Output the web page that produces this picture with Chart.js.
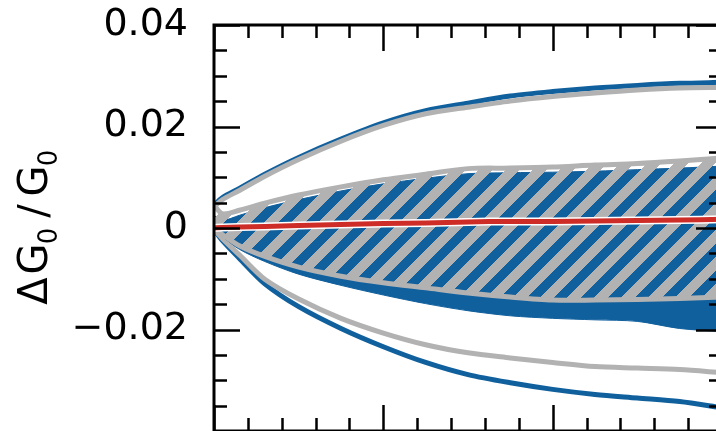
<!DOCTYPE html>
<html lang="en">
<head>
    <meta charset="UTF-8">
    <title>Delta G0 / G0</title>
    <script src="https://cdn.jsdelivr.net/npm/chart.js"></script>
    <style>
        body { margin: 0; overflow: hidden; background: #fff; }
        #wrap { position: absolute; left: 0; top: 0; }
    </style>
</head>
<body>
    <div id="wrap"><canvas id="gChart" width="740" height="460"></canvas></div>

    <script>
        // x positions (axis runs 0..3, tick labels fall below the visible window)
        const xs = [0, 0.05, 0.15, 0.3, 0.5, 0.75, 1.0, 1.25, 1.5, 1.75, 2.0, 2.25, 2.5, 2.75, 3.0];

        // outer envelopes
        const blueOuterUp = [0.0045, 0.0060, 0.0078, 0.0106, 0.0139, 0.0175, 0.0207, 0.0231, 0.0246, 0.0260, 0.0269, 0.0276, 0.0281, 0.0285, 0.0287];
        const grayOuterUp = [0.0042, 0.0056, 0.0074, 0.0102, 0.0135, 0.0171, 0.0202, 0.0225, 0.0238, 0.0250, 0.0259, 0.0266, 0.0272, 0.0276, 0.0277];
        const grayOuterLo = [-0.0003, -0.0021, -0.0053, -0.0101, -0.0140, -0.0178, -0.0207, -0.0230, -0.0246, -0.0256, -0.0265, -0.0273, -0.0276, -0.0279, -0.0285];
        const blueOuterLo = [-0.0003, -0.0025, -0.0060, -0.0110, -0.0155, -0.0198, -0.0234, -0.0265, -0.0289, -0.0305, -0.0318, -0.0328, -0.0335, -0.0342, -0.0354];

        // inner bands
        const blueBandUp = [0.0025, 0.0015, 0.0025, 0.0040, 0.0056, 0.0073, 0.0087, 0.0098, 0.0107, 0.0109, 0.0110, 0.0112, 0.0115, 0.0118, 0.0122];
        const blueBandLo = [-0.0003, -0.0017, -0.0042, -0.0066, -0.0091, -0.0113, -0.0132, -0.0149, -0.0163, -0.0173, -0.0178, -0.0181, -0.0184, -0.0198, -0.0204];
        const grayBandUp = [0.0045, 0.0028, 0.0035, 0.0049, 0.0065, 0.0081, 0.0095, 0.0106, 0.0117, 0.0118, 0.0120, 0.0124, 0.0127, 0.0132, 0.0138];
        const grayBandLo = [-0.0002, -0.0013, -0.0035, -0.0056, -0.0077, -0.0095, -0.0108, -0.0118, -0.0128, -0.0136, -0.0142, -0.0142, -0.0141, -0.0139, -0.0136];

        // central red line
        const redLine = [0, 0.0001, 0.0002, 0.0003, 0.0005, 0.0007, 0.0009, 0.0010, 0.0012, 0.0013, 0.0013, 0.0014, 0.0015, 0.0016, 0.0017];

        const yTicks = [0.04, 0.02, 0, -0.02];

        const BLUE = 'rgb(17,96,158)';
        const GRAY = 'rgb(178,178,178)';
        const RED = 'rgb(206,44,38)';

        const pts = arr => xs.map((x, i) => ({ x: x, y: arr[i] }));

        // diagonal gray hatch, transparent gaps
        function makeHatch() {
            const s = 27, w = 14;
            const c = document.createElement('canvas');
            c.width = s; c.height = s;
            const g = c.getContext('2d');
            const img = g.createImageData(s, s);
            for (let j = 0; j < s; j++) {
                for (let i = 0; i < s; i++) {
                    if ((i + j) % s < w) {
                        const k = (j * s + i) * 4;
                        img.data[k] = 178; img.data[k + 1] = 178; img.data[k + 2] = 178; img.data[k + 3] = 255;
                    }
                }
            }
            g.putImageData(img, 0, 0);
            return g.createPattern(c, 'repeat');
        }

        const line = (arr, color, width, order, extra) => Object.assign({
            data: pts(arr),
            borderColor: color,
            borderWidth: width,
            pointRadius: 0,
            fill: false,
            tension: 0.3,
            order: order
        }, extra || {});

        const ctx = document.getElementById('gChart').getContext('2d');

        // frame and inward ticks on all four sides
        const framePlugin = {
            id: 'frame',
            afterDatasetsDraw(chart) {
                const a = chart.chartArea;
                const xS = chart.scales.x, yS = chart.scales.y;
                const c = chart.ctx;
                c.save();
                c.strokeStyle = '#000';
                c.lineWidth = 2.5;
                c.beginPath();
                for (let k = -8; k <= 8; k++) {
                    const v = k * 0.005;
                    const y = Math.round(yS.getPixelForValue(v)) + 0.5;
                    const len = (k % 4 === 0) ? 26 : 13;
                    c.moveTo(a.left, y); c.lineTo(a.left + len, y);
                    c.moveTo(a.right, y); c.lineTo(a.right - len, y);
                }
                for (let k = 0; k <= 15; k++) {
                    const v = k * 0.2;
                    const x = Math.round(xS.getPixelForValue(v)) + 0.5;
                    const len = (k % 5 === 0) ? 26 : 13;
                    c.moveTo(x, a.top); c.lineTo(x, a.top + len);
                    c.moveTo(x, a.bottom); c.lineTo(x, a.bottom - len);
                }
                c.stroke();
                c.lineWidth = 3;
                c.strokeRect(a.left, a.top, a.right - a.left, a.bottom - a.top);
                c.restore();
            },
            afterDraw(chart) {
                // rotated y title with subscripts
                const c = chart.ctx;
                c.save();
                c.translate(47, 308);
                c.rotate(-Math.PI / 2);
                c.fillStyle = '#000';
                c.textAlign = 'center';
                c.textBaseline = 'alphabetic';
                const parts = [
                    ['\u0394', 40, 17, 0],
                    ['G', 40, 49, 0],
                    ['0', 26, 72, 10],
                    ['/', 40, 97, 0],
                    ['G', 40, 127, 0],
                    ['0', 26, 150, 10]
                ];
                parts.forEach(p => {
                    c.font = p[1] + 'px "DejaVu Sans"';
                    c.fillText(p[0], p[2], p[3]);
                });
                c.restore();
            }
        };

        new Chart(ctx, {
            type: 'line',
            data: {
                datasets: [
                    line(redLine, RED, 5, 0),                                   // 0
                    line(redLine, '#ffffff', 8, 1),                             // 1
                    line(grayBandLo, GRAY, 5, 2),                               // 2
                    line(grayBandUp, GRAY, 5, 3, { fill: 2, backgroundColor: makeHatch() }), // 3
                    line(blueBandLo, BLUE, 1, 5),                               // 4
                    line(blueBandUp, BLUE, 1, 4, { fill: 4, backgroundColor: BLUE }),        // 5
                    line(grayOuterUp, GRAY, 5, 6),                              // 6
                    line(grayOuterLo, GRAY, 5, 6),                              // 7
                    line(blueOuterUp, BLUE, 5, 7),                              // 8
                    line(blueOuterLo, BLUE, 5, 7)                               // 9
                ]
            },
            options: {
                responsive: false,
                animation: false,
                devicePixelRatio: 1,
                layout: { padding: { top: 25, right: 18, bottom: 29, left: 0 } },
                plugins: {
                    legend: { display: false },
                    tooltip: { enabled: false }
                },
                scales: {
                    x: { type: 'linear', min: 0, max: 3, display: false },
                    y: {
                        min: -0.04,
                        max: 0.04,
                        grid: { display: false, drawTicks: false },
                        border: { display: false },
                        afterBuildTicks(scale) {
                            scale.ticks = yTicks.map(v => ({ value: v }));
                        },
                        afterFit(scale) {
                            scale.width = 214;
                            scale.paddingTop = 0;
                            scale.paddingBottom = 0;
                        },
                        ticks: {
                            padding: 26,
                            color: '#000',
                            font: { family: 'DejaVu Sans', size: 38 },
                            callback: v => {
                                const r = Math.round(v * 100) / 100;
                                if (r === 0) return '0';
                                return (r < 0 ? '\u2212' : '') + Math.abs(r).toFixed(2);
                            }
                        }
                    }
                }
            },
            plugins: [framePlugin]
        });
    </script>
</body>
</html>
